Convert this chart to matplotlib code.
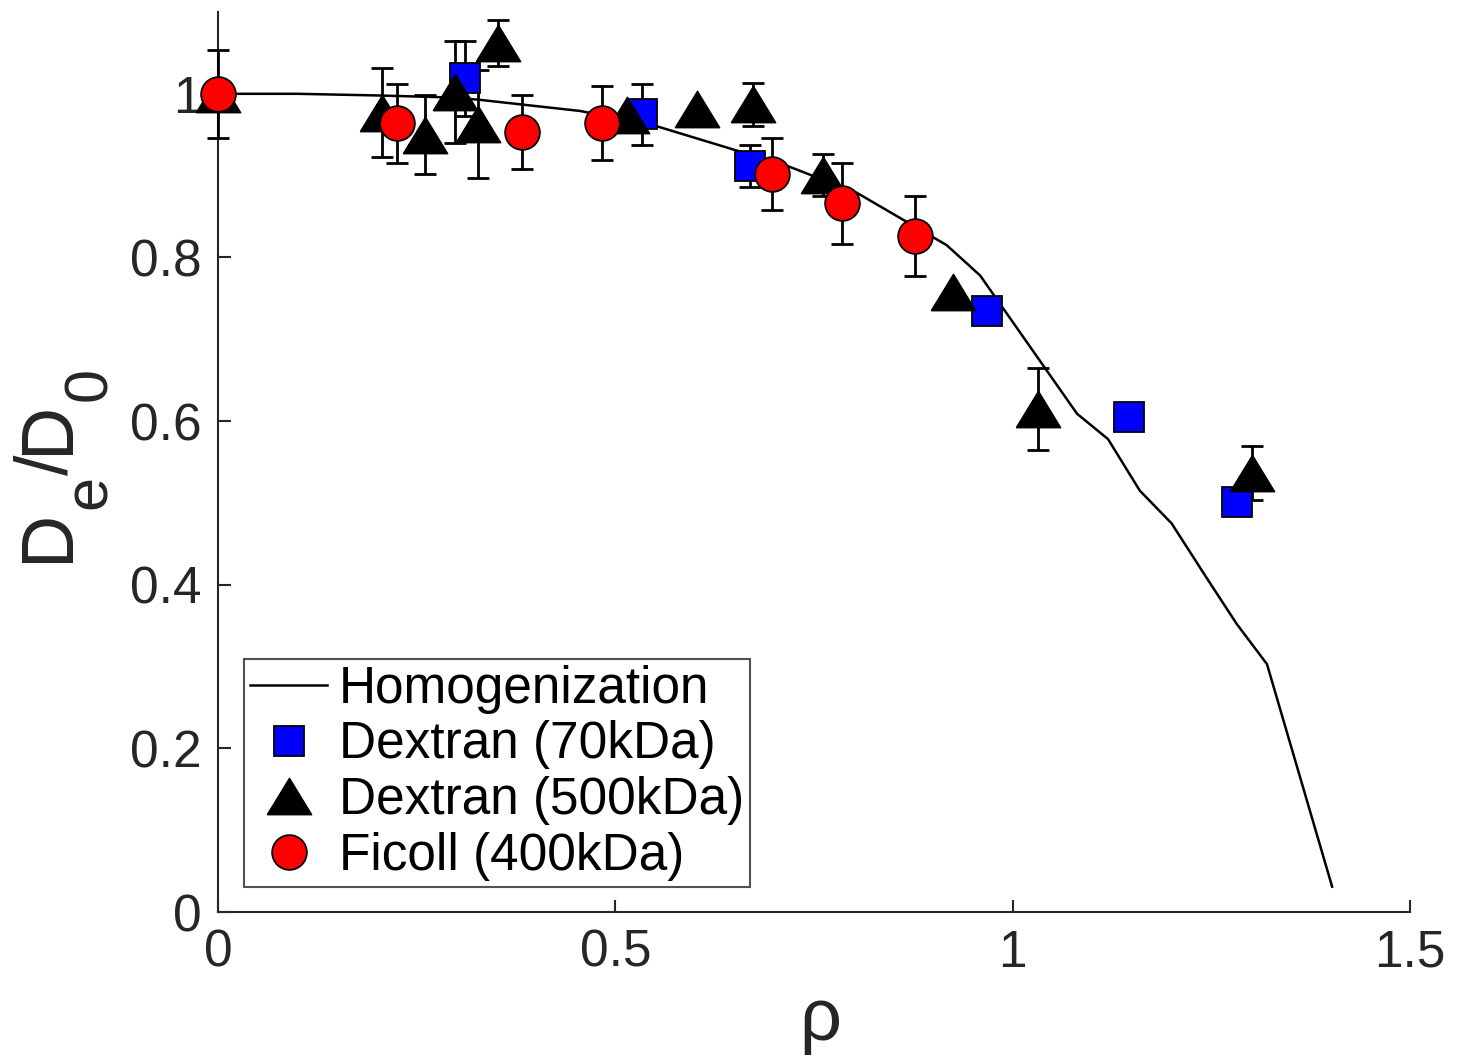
import numpy as np
import matplotlib
matplotlib.use('Agg')
import matplotlib.pyplot as plt

plt.rcParams['font.family'] = ['Liberation Sans', 'DejaVu Sans']

# homogenization model curve
rho_model = [0, 0.1, 0.2, 0.276, 0.326, 0.456, 0.550, 0.716, 0.804, 0.917,
             0.959, 1.081, 1.120, 1.160, 1.200, 1.245, 1.282, 1.320, 1.402]
d_model = [1.0, 1.0, 0.998, 0.996, 0.993, 0.979, 0.961, 0.912, 0.879, 0.815,
           0.778, 0.609, 0.578, 0.515, 0.475, 0.407, 0.352, 0.303, 0.031]

# Dextran 70kDa
rho_d70 = [0.311, 0.533, 0.669, 0.968, 1.146, 1.282]
d_d70 = [1.019, 0.975, 0.912, 0.734, 0.605, 0.501]
err_d70 = [0.046, 0.037, 0.026, 0, 0, 0]

# Dextran 500kDa
rho_d500 = [0.0, 0.206, 0.260, 0.298, 0.327, 0.352, 0.515, 0.603, 0.673,
            0.761, 0.925, 1.032, 1.301]
d_d500 = [1.0, 0.977, 0.950, 1.002, 0.963, 1.062, 0.974, 0.982, 0.987,
          0.901, 0.758, 0.615, 0.537]
err_d500 = [0.054, 0.054, 0.048, 0.062, 0.066, 0.028, 0, 0, 0.026,
            0.026, 0, 0.050, 0.033]

# Ficoll 400kDa
rho_fic = [0.0, 0.225, 0.383, 0.483, 0.697, 0.785, 0.877]
d_fic = [1.0, 0.964, 0.953, 0.964, 0.902, 0.866, 0.826]
err_fic = [0, 0.048, 0.045, 0.045, 0.044, 0.050, 0.049]

# wide, slightly flattened triangle
tri = [(-1, -0.82), (1, -0.82), (0, 0.82), (-1, -0.82)]

W, H = 1461, 1061
fig = plt.figure(figsize=(W / 100, H / 100), dpi=100)
ax = fig.add_axes([0.1492, 0.1404, 0.8159, 0.8483])

ax.plot(rho_model, d_model, color='black', lw=1.8, label='Homogenization', zorder=2)


def bars(x, y, e):
    # only draw error bars where a value was measured
    x, y, e = np.array(x), np.array(y), np.array(e)
    m = e > 0
    ax.errorbar(x[m], y[m], yerr=e[m], fmt='none', ecolor='black',
                elinewidth=2, capsize=8, capthick=2, zorder=3, clip_on=False)


bars(rho_d70, d_d70, err_d70)
bars(rho_d500, d_d500, err_d500)
bars(rho_fic, d_fic, err_fic)

ax.plot(rho_d70, d_d70, ls='none', marker='s', ms=21, mfc='#0000ff',
        mec='black', mew=1.3, label='Dextran (70kDa)', zorder=4, clip_on=False)
ax.plot(rho_d500, d_d500, ls='none', marker=tri, ms=32, mfc='black',
        mec='black', mew=1, label='Dextran (500kDa)', zorder=5, clip_on=False)
ax.plot(rho_fic, d_fic, ls='none', marker='o', ms=25, mfc='#ff0000',
        mec='black', mew=1.3, label='Ficoll (400kDa)', zorder=6, clip_on=False)

ax.set_xlim(0, 1.5)
ax.set_ylim(0, 1.1)
ax.set_xticks([0, 0.5, 1, 1.5])
ax.set_xticklabels(['0', '0.5', '1', '1.5'])
ax.set_yticks([0, 0.2, 0.4, 0.6, 0.8, 1])
ax.set_yticklabels(['0', '0.2', '0.4', '0.6', '0.8', '1'])

for s in ['top', 'right']:
    ax.spines[s].set_visible(False)
for s in ['left', 'bottom']:
    ax.spines[s].set_color('#262626')
    ax.spines[s].set_linewidth(1.5)

ax.tick_params(direction='in', length=9, width=1.5, colors='#262626',
               labelsize=37, pad=12)

leg = ax.legend(loc='lower left', bbox_to_anchor=(0.0218, 0.0278),
                borderaxespad=0, fontsize=37, frameon=True, fancybox=False,
                labelspacing=0.13, handlelength=1.5, handletextpad=0.22,
                borderpad=0.12)
leg.get_frame().set_edgecolor('#262626')
leg.get_frame().set_linewidth(1.5)

# x label
fig.text(820 / W, 1 - 1040 / H, 'ρ', fontsize=53, color='#262626',
         ha='center', va='baseline')

# y label D_e/D_0 built from pieces so the subscripts stay large
renderer = fig.canvas.get_renderer()
pieces = [('D', 53, 68), ('e', 44, 106), ('/', 53, 68), ('D', 53, 68), ('0', 44, 106)]
ypos = 1 - 562 / H
for txt, size, base_px in pieces:
    t = fig.text(base_px / W, ypos, txt, fontsize=size, color='#262626',
                 rotation=90, rotation_mode='anchor', ha='left', va='baseline')
    bb = t.get_window_extent(renderer)
    ypos = bb.y1 / fig.bbox.height

fig.savefig('out.png', dpi=100)
